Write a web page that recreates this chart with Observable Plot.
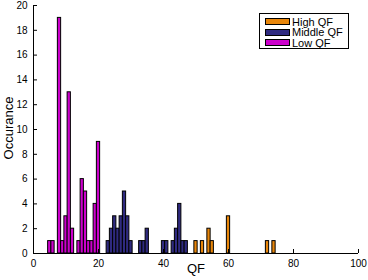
<!DOCTYPE html>
<html><head><meta charset="utf-8">
<script src="https://cdn.jsdelivr.net/npm/d3@7"></script>
<script src="https://cdn.jsdelivr.net/npm/@observablehq/plot@0.6"></script>
<style>
body{margin:0;background:#fff;}
#wrap{position:relative;width:368px;height:280px;font-family:"Liberation Sans",Arial,sans-serif;}
#legend{position:absolute;left:259px;top:13px;width:90px;height:36px;border:1px solid #000;background:#fff;font-size:11px;box-sizing:border-box;}
.row{position:absolute;left:5px;height:8px;display:flex;align-items:center;white-space:nowrap;}
.sw{width:25px;height:7px;border:1px solid #000;box-sizing:border-box;margin-right:2px;}
#ylab{position:absolute;left:8px;top:128px;transform:translate(-50%,-50%) rotate(-90deg);font-size:13px;white-space:nowrap;line-height:1;}
</style>
</head><body>
<div id="wrap"><div id="chart"></div><div id="legend"></div><div id="ylab"></div></div>
<script>
const groups = ["High QF", "Middle QF", "Low QF"];
const colors = ["#e8860a", "#2f2a80", "#cc00cc"];

const highQF = [50, 52, 54, 55, 60, 72, 74];
const highCount = [1, 1, 2, 1, 3, 1, 1];

const middleQF = [23, 24, 25, 26, 27, 28, 29, 30, 33, 34, 35, 40, 41, 43, 44, 45, 46, 47];
const middleCount = [1, 2, 3, 2, 3, 5, 3, 1, 1, 1, 2, 1, 1, 1, 2, 4, 1, 1];

const lowQF = [5, 6, 8, 9, 10, 11, 12, 14, 15, 16, 17, 18, 19, 20];
const lowCount = [1, 1, 19, 1, 3, 13, 2, 1, 6, 5, 1, 1, 4, 9];

const xTicks = [0, 20, 40, 60, 80, 100];
const yTicks = [0, 2, 4, 6, 8, 10, 12, 14, 16, 18, 20];
const xLabel = "QF";
const yLabel = "Occurance";

const rows = [];
[[highQF, highCount, groups[0]], [middleQF, middleCount, groups[1]], [lowQF, lowCount, groups[2]]]
  .forEach(([qs, cs, g]) => qs.forEach((q, i) => rows.push({group: g, x1: q - 0.5, x2: q + 0.5, count: cs[i]})));

const chart = Plot.plot({
  width: 368, height: 280,
  marginLeft: 33, marginRight: 10, marginTop: 5, marginBottom: 27,
  style: {fontFamily: "'Liberation Sans', Arial, sans-serif", fontSize: "10px", background: "transparent", color: "#000"},
  x: {domain: [0, 100]},
  y: {domain: [0, 20]},
  color: {domain: groups, range: colors},
  marks: [
    Plot.rectY(rows, {x1: "x1", x2: "x2", y: "count", fill: "group", stroke: "#000", strokeWidth: 1, inset: 0}),
    Plot.ruleX([0], {stroke: "#000"}),
    Plot.ruleY([0], {stroke: "#000"}),
    Plot.axisX({ticks: xTicks, tickSize: -4, tickPadding: 10, label: null, stroke: "#000"}),
    Plot.axisY({ticks: yTicks, tickSize: -4, tickPadding: 10, label: null, stroke: "#000"}),
    Plot.text([xLabel], {frameAnchor: "bottom", dy: 19, fontSize: 13, fill: "#000"})
  ]
});
document.getElementById("chart").appendChild(chart);
document.getElementById("ylab").textContent = yLabel;

const leg = document.getElementById("legend");
groups.forEach((g, i) => {
  const r = document.createElement("div");
  r.className = "row";
  r.style.top = (3.5 + i * 10.5) + "px";
  r.innerHTML = `<div class="sw" style="background:${colors[i]}"></div><span>${g}</span>`;
  leg.appendChild(r);
});
</script>
</body></html>
